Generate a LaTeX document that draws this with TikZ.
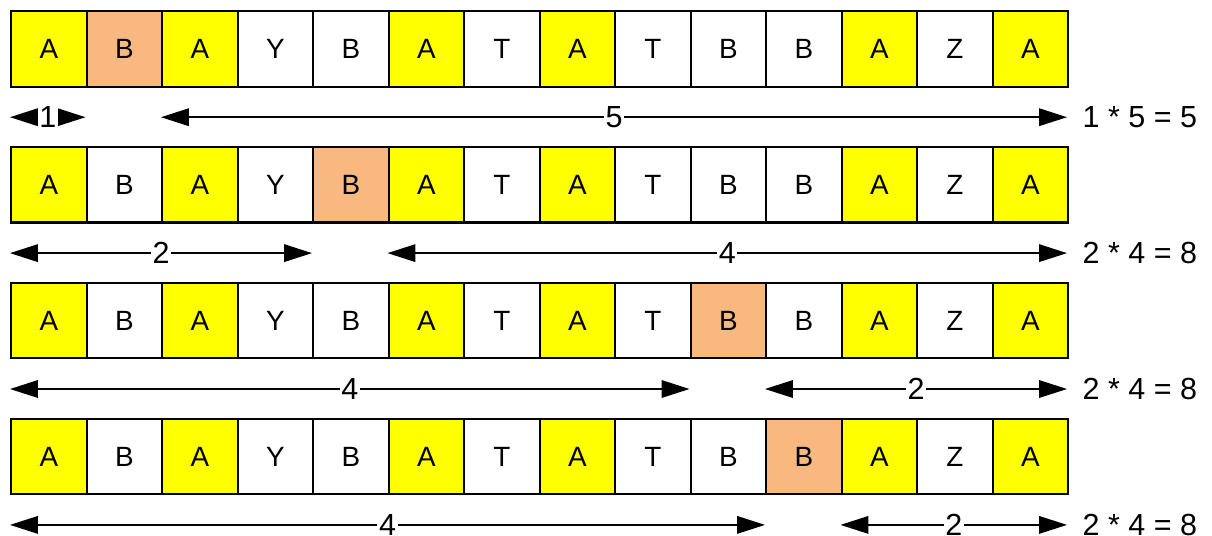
\documentclass[tikz,border=0pt]{standalone}
\usepackage{fontspec}
\setmainfont{Liberation Sans}
\usetikzlibrary{arrows.meta, calc}

\definecolor{cellyellow}{RGB}{255,255,0}
\definecolor{cellorange}{RGB}{248,184,128}

\begin{document}
\begin{tikzpicture}[
    cell/.style={draw, line width=0.8pt, minimum size=1cm, inner sep=0pt, anchor=north west, font=\fontsize{10.5}{12}\selectfont},
    cA/.style={fill=cellyellow}, cB/.style={fill=white}, cY/.style={fill=white},
    cT/.style={fill=white}, cZ/.style={fill=white},
    pick/.style={fill=cellorange},
    span/.style={{Triangle[length=10.5pt,width=6.6pt]}-{Triangle[length=10.5pt,width=6.6pt]}, line width=0.6pt},
    count/.style={fill=white, inner sep=0.6pt, font=\fontsize{11.5}{13}\selectfont},
    result/.style={anchor=west, inner sep=0pt, font=\fontsize{11.5}{13}\selectfont}]
  \useasboundingbox (0,0) rectangle (16.053,-7.099);
  \foreach \r/\o/\nl/\nr/\res in {0/1/1/5/{1 * 5 = 5}, 1/4/2/4/{2 * 4 = 8}, 2/9/4/2/{2 * 4 = 8}, 3/10/4/2/{2 * 4 = 8}} {
    % row of letters, the chosen B in orange
    \foreach \t [count=\i from 0] in {A,B,A,Y,B,A,T,A,T,B,B,A,Z,A} {
      \ifnum\i=\o \def\cstyle{pick}\else\def\cstyle{c\t}\fi
      \node[cell, \cstyle] (c-\r-\i) at ({0.1325+\i}, {-0.1325-1.8*\r}) {\t};
    }
    % cell borders at arrow height
    \foreach \i in {0,...,14}
      \coordinate (p-\r-\i) at ({0.1325+\i}, {-0.1325-1.8*\r-1.42});
    \pgfmathtruncatemacro\oa{\o+1}
    \draw[span] (p-\r-0) -- (p-\r-\o) node[count, midway] (n-\r-l) {\nl};
    \draw[span] (p-\r-\oa) -- (p-\r-14) node[count, midway] (n-\r-r) {\nr};
    \node[result] (res-\r) at ($(p-\r-14)+(0.2,0)$) {\res};
  }
\end{tikzpicture}
\end{document}
